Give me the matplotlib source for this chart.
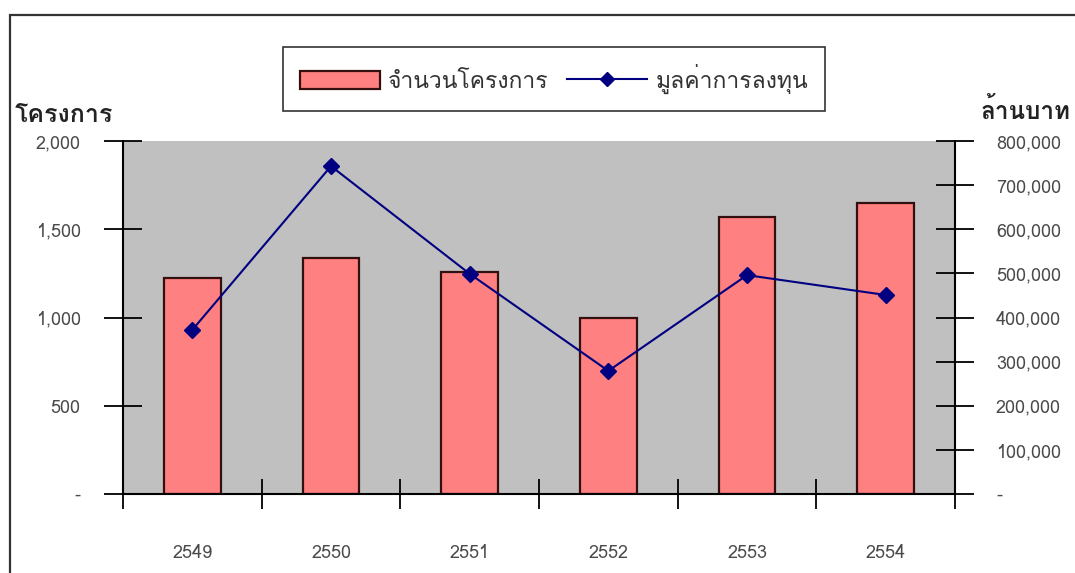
import matplotlib
matplotlib.use("Agg")
import matplotlib.pyplot as plt
from matplotlib import font_manager, ft2font
from matplotlib.patches import Rectangle
from matplotlib.lines import Line2D
from matplotlib.ticker import FixedLocator, FuncFormatter

# ---------------- data ----------------
years = ["2549", "2550", "2551", "2552", "2553", "2554"]
projects = [1224, 1337, 1258, 997, 1569, 1649]          # จำนวนโครงการ (left axis)
investment = [372000, 743000, 499000, 279000, 496000, 451000]  # มูลค่าการลงทุน (right axis, ล้านบาท)
left_ticks = [0, 500, 1000, 1500, 2000]
right_ticks = [0, 100000, 200000, 300000, 400000, 500000, 600000, 700000, 800000]
bar_label = "จำนวนโครงการ"
line_label = "มูลค่าการลงทุน"
left_title = "โครงการ"
right_title = "ล้านบาท"

# ---------------- font with Thai glyphs ----------------
thai_font = None
for f in font_manager.fontManager.ttflist:
    try:
        cm = ft2font.FT2Font(f.fname).get_charmap()
        if 0x0E42 in cm and 0x0E04 in cm and 0x0E23 in cm:
            thai_font = f.name
            break
    except Exception:
        pass
families = ([thai_font] if thai_font else []) + ["DejaVu Sans"]
plt.rcParams["font.family"] = families

label_color = "#4a4a4a"
tick_fs = 13

fig = plt.figure(figsize=(10.75, 5.73), dpi=100)
fig.patch.set_facecolor("white")

W, H = 1075, 573
ax = fig.add_axes([123 / W, 1 - 494 / H, (955 - 123) / W, (494 - 141) / H])
ax.set_facecolor("#C0C0C0")
ax2 = ax.twinx()

x = list(range(len(years)))
ax.bar(x, projects, width=0.41, color="#FF8080", edgecolor="#331010",
       linewidth=1.6, zorder=2)
ax2.plot(x, investment, color="#000080", linewidth=1.5, marker="D",
         markersize=8, zorder=3)

ax.set_xlim(-0.5, len(years) - 0.5)
ax.set_ylim(0, 2000)
ax2.set_ylim(0, 800000)

# x ticks: boundaries (major, no labels), labels via minor
ax.xaxis.set_major_locator(FixedLocator([i - 0.5 for i in range(len(years) + 1)]))
ax.xaxis.set_major_formatter(FuncFormatter(lambda v, p: ""))
ax.xaxis.set_minor_locator(FixedLocator(x))
ax.set_xticklabels(years, minor=True)
ax.tick_params(axis="x", which="major", direction="inout", length=22, width=1.3, color="black")
ax.tick_params(axis="x", which="minor", length=0, pad=36, labelsize=tick_fs, labelcolor=label_color)

fmt = FuncFormatter(lambda v, p: "-" if v == 0 else f"{v:,.0f}")
ax.yaxis.set_major_locator(FixedLocator(left_ticks))
ax.yaxis.set_major_formatter(fmt)
ax.tick_params(axis="y", direction="inout", length=27, width=1.3, color="black",
               pad=17, labelsize=tick_fs, labelcolor=label_color)
ax2.yaxis.set_major_locator(FixedLocator(right_ticks))
ax2.yaxis.set_major_formatter(fmt)
ax2.tick_params(axis="y", direction="inout", length=27, width=1.3, color="black",
                pad=16, labelsize=tick_fs, labelcolor=label_color)

for a in (ax, ax2):
    a.spines["top"].set_visible(False)
ax.spines["right"].set_visible(False)
ax2.spines["left"].set_visible(False)
ax2.spines["bottom"].set_visible(False)
ax.spines["left"].set_linewidth(1.5)
ax.spines["bottom"].set_linewidth(1.5)
ax2.spines["right"].set_linewidth(1.5)

# axis titles
fig.text(15 / W, 1 - 115 / H, left_title, fontsize=18, fontweight="bold",
         color="#222222", ha="left", va="center")
fig.text(1071 / W, 1 - 111 / H, right_title, fontsize=17.5, fontweight="bold",
         color="#222222", ha="right", va="center")

# legend
handles = [Rectangle((0, 0), 1, 1, facecolor="#FF8080", edgecolor="#331010", linewidth=1.6),
           Line2D([], [], color="#000080", linewidth=1.5, marker="D", markersize=7)]
leg = fig.legend(handles, [bar_label, line_label], loc="center",
                 bbox_to_anchor=(554 / W, 1 - 79 / H), ncol=2, frameon=True,
                 fancybox=False, fontsize=16.5, handlelength=3.5, handleheight=0.85,
                 columnspacing=0.8, handletextpad=0.35, borderpad=0.75,
                 labelcolor="#333333")
leg.get_frame().set_edgecolor("black")
leg.get_frame().set_linewidth(1.2)

# outer frame
fig.add_artist(Rectangle((10 / W, -0.1), 1.2, (573 - 15) / H + 0.1,
                         transform=fig.transFigure, fill=False,
                         edgecolor="#333333", linewidth=1.6))

fig.savefig("out.png", dpi=100)
